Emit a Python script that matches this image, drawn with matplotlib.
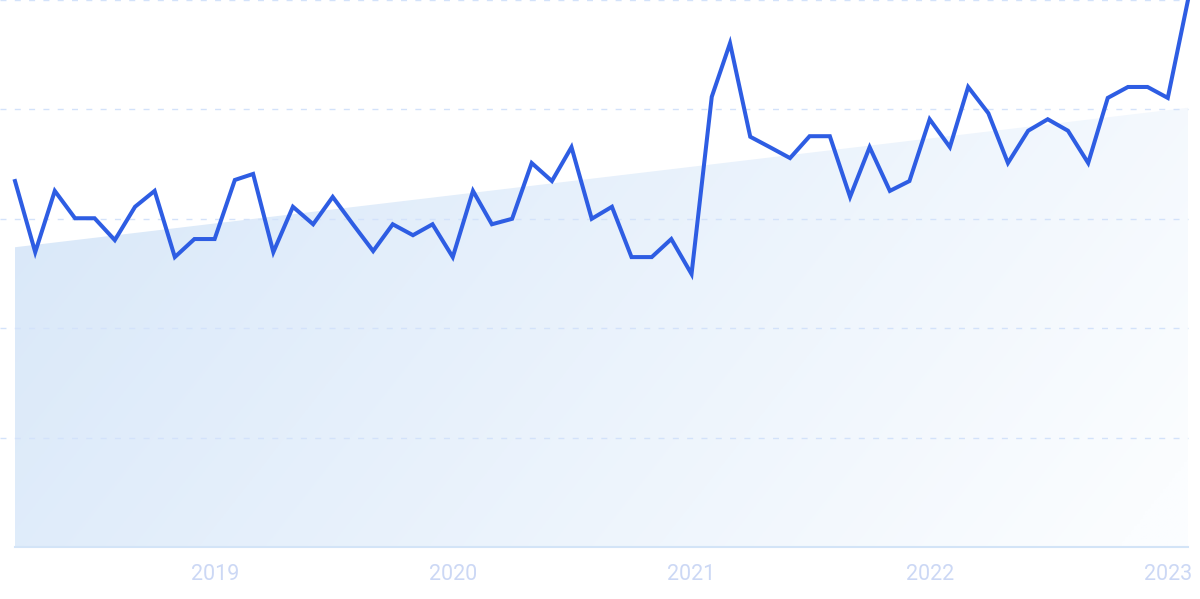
import numpy as np
import pandas as pd
import matplotlib
matplotlib.use("Agg")
import matplotlib.pyplot as plt
import matplotlib.dates as mdates
from matplotlib.colors import to_rgb


# ─── Data (monthly Mar 2018 → Feb 2023) ───────────────────────────────────────

months = pd.date_range("2018-03-01", "2023-02-01", freq="MS")

values = [
    66.9, 53.9, 65.1, 60.1, 60.1, 56.1, 62.2, 65.1, 53.0, 56.3,   # 2018
    56.3, 67.1, 68.2, 53.9, 62.2, 59.0, 64.0, 59.0, 54.1, 59.0,   # 2019
    57.0, 59.0, 53.0, 65.1, 59.0, 60.0, 70.2, 66.9, 73.1, 60.0,   # 2020
    62.2, 53.0, 53.0, 56.3, 49.9, 82.3, 92.1, 75.0, 73.1, 71.1,   # 2021
    75.1, 75.1, 64.0, 73.1, 65.1, 66.9, 78.2, 73.1, 84.1, 79.3,   # 2022
    70.2, 76.1, 78.2, 76.1, 70.2, 82.1, 84.1, 84.1, 82.1, 100.0,  # 2023
]

trend_ends  = [54.8, 80.3]          # trend value at first / last month
year_ticks  = ["2019", "2020", "2021", "2022", "2023"]
grid_levels = [20, 40, 60, 80, 100]

LINE_COLOR = "#2E5DE3"
TICK_COLOR = "#CCD8F5"
GRID_COLOR = "#D3E2FA"


# ─── Figure ───────────────────────────────────────────────────────────────────

fig = plt.figure(figsize=(12, 5.99), dpi=100)
ax = fig.add_axes([15 / 1200, 52 / 599, 1173 / 1200, 547 / 599])

x = mdates.date2num(months.to_pydatetime())
trend = np.interp(x, [x[0], x[-1]], trend_ends)

# gradient fill under the trend line — darker top-left, fading bottom-right
ny, nx = 200, 400
gx = np.linspace(0, 1, nx)[None, :]
gy = np.linspace(0, 1, ny)[:, None]          # 0 = bottom, 1 = top of fill
t = np.clip(0.85 * gx + 0.25 * (1 - gy) - 0.05, 0, 1)
c0 = np.array(to_rgb("#D9E8F9"))
c1 = np.array(to_rgb("#FBFDFF"))
img = c0[None, None, :] * (1 - t[..., None]) + c1[None, None, :] * t[..., None]

poly = ax.fill_between(x, trend, 0, color="none", lw=0)
im = ax.imshow(img, origin="lower", aspect="auto",
               extent=[x[0], x[-1], 0, max(trend_ends)], zorder=1)
im.set_clip_path(poly.get_paths()[0], transform=ax.transData)

# dashed grid lines, starting at the figure's left edge
for lvl in grid_levels:
    ax.axhline(lvl, xmin=-15 / 1173, xmax=1, color=GRID_COLOR, lw=1.0,
               ls=(0, (4.3, 6.0)), zorder=2, clip_on=False)

ax.plot(x, values, color=LINE_COLOR, lw=2.9, zorder=3,
        solid_joinstyle="miter", clip_on=False)

ax.set_xlim(x[0], x[-1])
ax.set_ylim(0, 100)

# x ticks at each new year
tick_pos = mdates.date2num([pd.Timestamp(f"{y}-01-01") for y in year_ticks])
ax.set_xticks(tick_pos)
ax.set_xticklabels(year_ticks, fontsize=15.5, color=TICK_COLOR, family="Roboto")
ax.tick_params(axis="x", length=0, pad=12)
ax.set_yticks([])

for side in ("top", "left", "right"):
    ax.spines[side].set_visible(False)
ax.spines["bottom"].set_color("#D3E4F7")
ax.spines["bottom"].set_linewidth(1.5)
ax.set_facecolor("none")

fig.savefig("out.png", dpi=100, facecolor="white")
